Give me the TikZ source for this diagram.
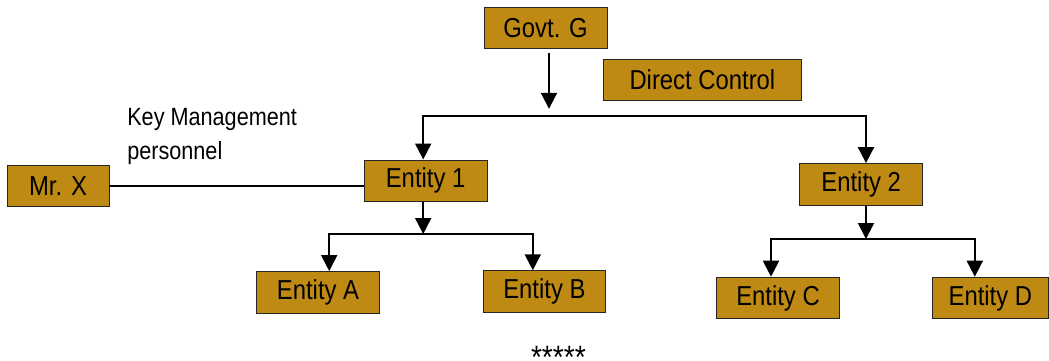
\documentclass[tikz,border=0pt]{standalone}
\usepackage{fontspec}
\setmainfont{Liberation Sans}[FakeStretch=0.87]
\usepackage{tikz}
\usetikzlibrary{arrows.meta}
\definecolor{boxgold}{RGB}{191,138,19}

\begin{document}
\begin{tikzpicture}
		\useasboundingbox (0,0) rectangle (26.225,9);
		\begin{scope}[every node/.style={rectangle,draw=black!85,line width=0.7pt,fill=boxgold,
		              minimum height=1.04cm,minimum width=3.07cm,inner sep=0pt,
		              font=\fontsize{19.5}{23}\selectfont}]
			\node (govt) at (13.64,8.30) {Govt. G};
			\node[minimum width=4.93cm] (direct) at (17.56,7.00) {Direct Control};
			\node (ent1) at (10.64,4.48) {Entity 1};
			\node (ent2) at (21.53,4.39) {Entity 2};
			\node[minimum width=2.55cm] (mrx) at (1.45,4.35) {Mr. X};
			\node (entA) at (7.95,1.69) {Entity A};
			\node (entB) at (13.61,1.71) {Entity B};
			\node (entC) at (19.45,1.55) {Entity C};
			\node[minimum width=2.88cm] (entD) at (24.76,1.55) {Entity D};
		\end{scope}

		\node[anchor=north west,align=left,inner sep=0pt,font=\fontsize{17.7}{24}\selectfont] (kmp) at (3.175,6.3) {Key Management\\personnel};
		\node[anchor=base,inner sep=0pt,font=\fontsize{23}{24}\selectfont] (stars) at (13.96,-0.22) {*****};

		\coordinate (gsplit) at (13.725,6.10);
		\coordinate (e1split) at (10.58,3.15);
		\coordinate (e2split) at (21.65,3.025);

		\begin{scope}[>={Triangle[length=0.4cm,width=0.4cm]},line width=1.4pt]
			\draw[->,shorten <=0.1cm,shorten >=0.18cm] (govt.south -| gsplit) -- (gsplit);
			\draw[->] (gsplit) -| ([xshift=-0.06cm]ent1.north);
			\draw[->] (gsplit) -| ([xshift=0.12cm]ent2.north);
			\draw (mrx.east) -- (mrx.east -| ent1.west);
			\draw[->] (ent1.south -| e1split) -- (e1split);
			\draw[->] (e1split) -| ([xshift=0.28cm]entA.north);
			\draw[->] (e1split) -| ([xshift=-0.29cm]entB.north);
			\draw[->] (ent2.south -| e2split) -- (e2split);
			\draw[->] (e2split) -| ([xshift=-0.175cm]entC.north);
			\draw[->] (e2split) -| ([xshift=-0.39cm]entD.north);
		\end{scope}
\end{tikzpicture}
\end{document}
